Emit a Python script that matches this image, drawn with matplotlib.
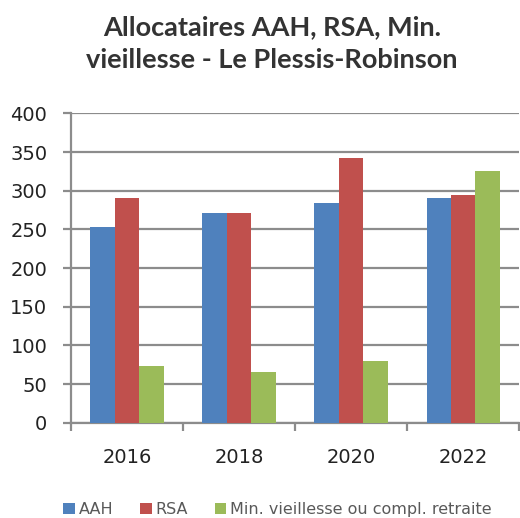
import matplotlib
matplotlib.use('Agg')
import matplotlib.pyplot as plt
import numpy as np

plt.rcParams['font.family'] = ['DejaVu Sans']

annees = ['2016', '2018', '2020', '2022']
aah = [253, 271, 284, 291]
rsa = [291, 271, 343, 295]
min_vieil = [73, 66, 80, 326]
series = ['AAH', 'RSA', 'Min. vieillesse ou compl. retraite']

fig = plt.figure(figsize=(5.2, 5.18), dpi=100)
ax = fig.add_axes([0.1365, 0.184, 0.862, 0.597])

x = np.arange(len(annees))
w = 0.218
ax.bar(x - w, aah, w, color='#4f81bd', label=series[0], zorder=3)
ax.bar(x, rsa, w, color='#c0504d', label=series[1], zorder=3)
ax.bar(x + w, min_vieil, w, color='#9bbb59', label=series[2], zorder=3)

ax.set_xlim(-0.5, len(annees) - 0.5)
ax.set_ylim(0, 400)
ax.set_yticks(range(0, 401, 50))
ax.yaxis.grid(True, color='#8c8c8c', linewidth=1.6)
ax.set_axisbelow(True)
ax.set_xticks(x)
ax.set_xticklabels(annees, fontsize=14, color='#222222')
ax.set_xticks(np.arange(-0.5, len(annees), 1), minor=True)
ax.tick_params(axis='x', which='major', length=0, pad=18)
ax.tick_params(axis='x', which='minor', length=6, color='#8c8c8c', width=1.6)
ax.tick_params(axis='y', length=6, color='#8c8c8c', width=1.6, labelsize=14,
               labelcolor='#222222', pad=11)
for s in ['top', 'right']:
    ax.spines[s].set_visible(False)
for s in ['left', 'bottom']:
    ax.spines[s].set_color('#8c8c8c')
    ax.spines[s].set_linewidth(1.6)

fig.text(0.523, 0.916, 'Allocataires AAH, RSA, Min.\nvieillesse - Le Plessis-Robinson',
         ha='center', va='center', fontsize=19.5, fontweight='bold',
         family=['Lato', 'DejaVu Sans'], color='#333333', linespacing=1.45)

leg = fig.legend(loc='center', bbox_to_anchor=(0.534, 0.0155), ncol=3, frameon=False,
                 fontsize=11.5, handlelength=0.7, handleheight=0.7, handletextpad=0.25,
                 columnspacing=1.7)
for t in leg.get_texts():
    t.set_color('#595959')

fig.savefig('out.png', dpi=100)
